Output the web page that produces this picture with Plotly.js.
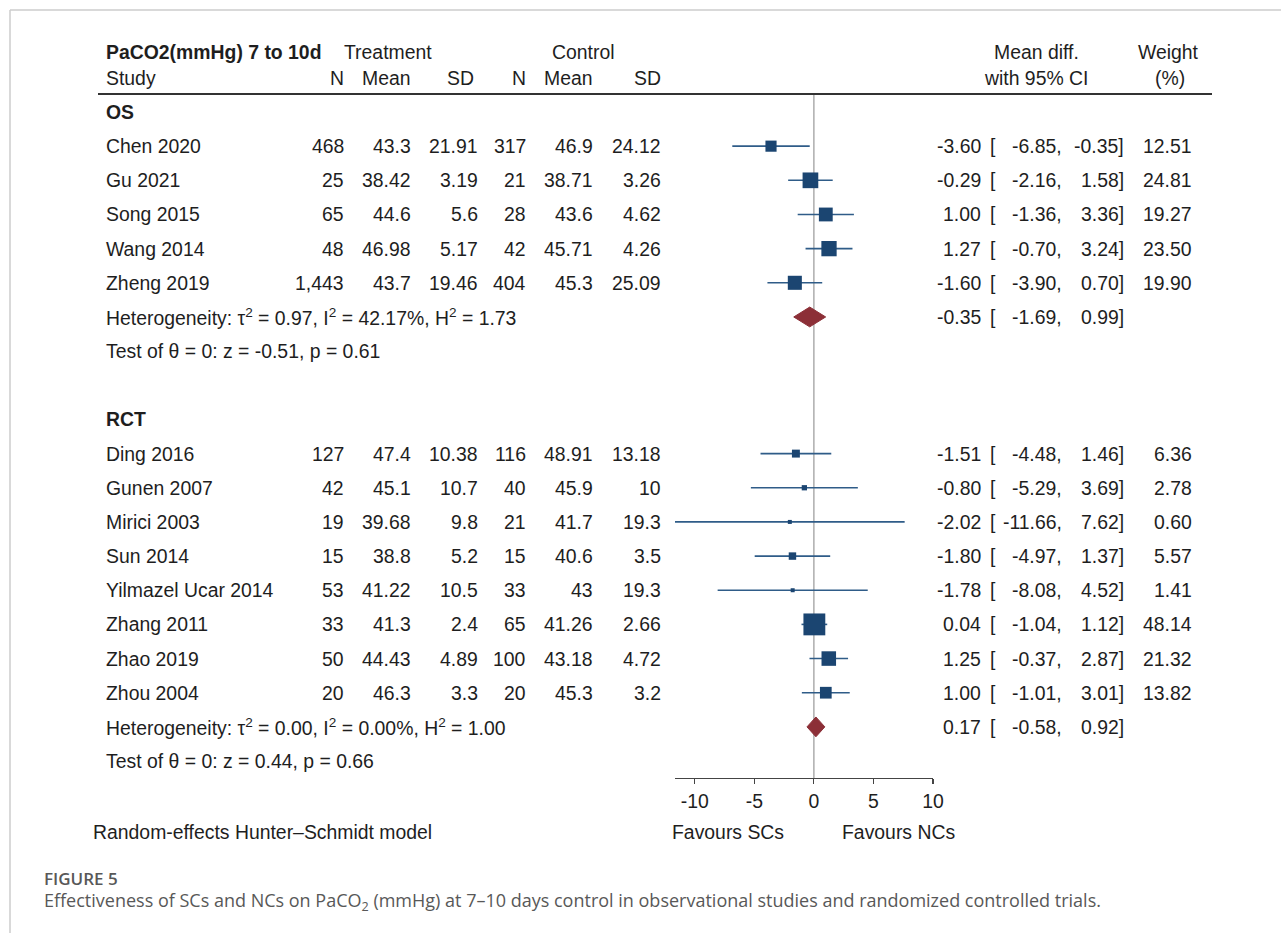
<!DOCTYPE html>
<html>
<head>
<meta charset="utf-8">
<script src="https://cdn.plot.ly/plotly-3.0.1.min.js"></script>
<style>
  html, body { margin: 0; padding: 0; background: #fff; }
  #chart { width: 1281px; height: 933px; }
</style>
</head>
<body>
<div id="chart"></div>
<script>
// ---------------- data ----------------
const groups = ["OS", "RCT"];
const studies = ["Chen 2020", "Gu 2021", "Song 2015", "Wang 2014", "Zheng 2019",
  "Ding 2016", "Gunen 2007", "Mirici 2003", "Sun 2014", "Yilmazel Ucar 2014",
  "Zhang 2011", "Zhao 2019", "Zhou 2004"];
const design = ["OS", "OS", "OS", "OS", "OS",
  "RCT", "RCT", "RCT", "RCT", "RCT", "RCT", "RCT", "RCT"];
const treatN = [468, 25, 65, 48, 1443, 127, 42, 19, 15, 53, 33, 50, 20];
const treatMean = [43.3, 38.42, 44.6, 46.98, 43.7, 47.4, 45.1, 39.68, 38.8, 41.22, 41.3, 44.43, 46.3];
const treatSD = [21.91, 3.19, 5.6, 5.17, 19.46, 10.38, 10.7, 9.8, 5.2, 10.5, 2.4, 4.89, 3.3];
const ctrlN = [317, 21, 28, 42, 404, 116, 40, 21, 15, 33, 65, 100, 20];
const ctrlMean = [46.9, 38.71, 43.6, 45.71, 45.3, 48.91, 45.9, 41.7, 40.6, 43, 41.26, 43.18, 45.3];
const ctrlSD = [24.12, 3.26, 4.62, 4.26, 25.09, 13.18, 10, 19.3, 3.5, 19.3, 2.66, 4.72, 3.2];
const meanDiff = [-3.60, -0.29, 1.00, 1.27, -1.60, -1.51, -0.80, -2.02, -1.80, -1.78, 0.04, 1.25, 1.00];
const ciLow = [-6.85, -2.16, -1.36, -0.70, -3.90, -4.48, -5.29, -11.66, -4.97, -8.08, -1.04, -0.37, -1.01];
const ciHigh = [-0.35, 1.58, 3.36, 3.24, 0.70, 1.46, 3.69, 7.62, 1.37, 4.52, 1.12, 2.87, 3.01];
const weight = [12.51, 24.81, 19.27, 23.50, 19.90, 6.36, 2.78, 0.60, 5.57, 1.41, 48.14, 21.32, 13.82];

const poolMd = [-0.35, 0.17];
const poolLow = [-1.69, -0.58];
const poolHigh = [0.99, 0.92];
const tau2 = ["0.97", "0.00"];
const i2 = ["42.17", "0.00"];
const h2 = ["1.73", "1.00"];
const zStat = ["-0.51", "0.44"];
const pVal = ["0.61", "0.66"];

const xTicks = [-10, -5, 0, 5, 10];
const xMin = -11.66, xMax = 10;

// ---------------- layout helpers ----------------
const W = 1281, H = 933;
const px = v => v / W;                 // horizontal pixel -> paper
const py = v => 1 - v / H;             // vertical pixel -> paper
const FONT = "Liberation Sans, Arial, Helvetica, sans-serif";
const FS = 19.4;
const TXT = "#1e1e1e";

// row assignment
const studyRow = [], headRow = [], poolRow = [], testRow = [];
let r = 0;
groups.forEach((g, gi) => {
  headRow.push(r); r++;
  design.forEach((d, i) => { if (d === g) { studyRow[i] = r; r++; } });
  poolRow.push(r); r++;
  testRow.push(r); r++;
  r++; // blank
});

const ann = [];
function txt(x, y, text, anchor, opts = {}) {
  ann.push(Object.assign({
    xref: "paper", yref: "y", x: px(x), y: y, text: text,
    xanchor: anchor, yanchor: "middle", showarrow: false,
    font: { family: FONT, size: FS, color: TXT }
  }, opts));
}
function ptxt(x, y, text, anchor, font) {
  ann.push({ xref: "paper", yref: "paper", x: px(x), y: py(y), text: text,
    xanchor: anchor, yanchor: "middle", showarrow: false,
    font: font || { family: FONT, size: FS, color: TXT } });
}
const fmtN = n => n.toLocaleString("en-US");

// column x positions (pixels)
const C = { name: 104, tN: 346, tM: 413, tS: 480, cN: 528, cM: 595, cS: 663,
  est: 983, br: 988, lo: 1064, hi: 1126, wt: 1194 };

// header rows
const rowTitle = -1.76, rowSub = -1.0;
txt(C.name, rowTitle, "<b>PaCO2(mmHg) 7 to 10d</b>", "left");
txt(388, rowTitle, "Treatment", "center");
txt(583, rowTitle, "Control", "center");
txt(1036, rowTitle, "Mean diff.", "center");
txt(1168, rowTitle, "Weight", "center");
txt(C.name, rowSub, "Study", "left");
txt(C.tN, rowSub, "N", "right");
txt(C.tM, rowSub, "Mean", "right");
txt(476, rowSub, "SD", "right");
txt(C.cN, rowSub, "N", "right");
txt(C.cM, rowSub, "Mean", "right");
txt(C.cS, rowSub, "SD", "right");
txt(1036, rowSub, "with 95% CI", "center");
txt(1170, rowSub, "(%)", "center");

groups.forEach((g, gi) => {
  txt(C.name, headRow[gi], "<b>" + g + "</b>", "left");
  txt(C.name, poolRow[gi], "Heterogeneity: τ<sup>2</sup> = " + tau2[gi] + ", I<sup>2</sup> = " + i2[gi] +
      "%, H<sup>2</sup> = " + h2[gi], "left");
  txt(C.name, testRow[gi], "Test of θ = 0: z = " + zStat[gi] + ", p = " + pVal[gi], "left");
  txt(C.est, poolRow[gi], poolMd[gi].toFixed(2), "right");
  txt(C.br, poolRow[gi], "[", "left");
  txt(C.lo, poolRow[gi], poolLow[gi].toFixed(2) + ",", "right");
  txt(C.hi, poolRow[gi], poolHigh[gi].toFixed(2) + "]", "right");
});

studies.forEach((s, i) => {
  const y = studyRow[i];
  txt(C.name, y, s, "left");
  txt(C.tN, y, fmtN(treatN[i]), "right");
  txt(C.tM, y, String(treatMean[i]), "right");
  txt(C.tS, y, String(treatSD[i]), "right");
  txt(C.cN, y, fmtN(ctrlN[i]), "right");
  txt(C.cM, y, String(ctrlMean[i]), "right");
  txt(C.cS, y, String(ctrlSD[i]), "right");
  txt(C.est, y, meanDiff[i].toFixed(2), "right");
  txt(C.br, y, "[", "left");
  txt(C.lo, y, ciLow[i].toFixed(2) + ",", "right");
  txt(C.hi, y, ciHigh[i].toFixed(2) + "]", "right");
  txt(C.wt, y, weight[i].toFixed(2), "right");
});

// footer texts
ptxt(91, 832, "Random-effects Hunter–Schmidt model", "left");
ptxt(728, 832, "Favours SCs", "center");
ptxt(898, 832, "Favours NCs", "center");

const CAP = "Open Sans, Noto Sans, sans-serif";
ptxt(42, 878, "FIGURE 5", "left", { family: CAP, size: 17, color: "#585858", weight: 600 });
ptxt(42, 901,
  "Effectiveness of SCs and NCs on PaCO<sub>2</sub> (mmHg) at 7–10 days control in observational studies and randomized controlled trials.",
  "left", { family: CAP, size: 18, color: "#585858" });

// ---------------- traces ----------------
const sizeK = 3.15;
const traces = [];
traces.push({
  type: "scatter", mode: "markers",
  x: meanDiff, y: studyRow,
  marker: { symbol: "square", opacity: 1,
    size: weight.map(w => Math.max(4, sizeK * Math.sqrt(w))), color: "#1b4571",
    line: { width: 0 } },
  error_x: { type: "data", symmetric: false,
    array: ciHigh.map((h, i) => h - meanDiff[i]),
    arrayminus: ciLow.map((l, i) => meanDiff[i] - l),
    width: 0, thickness: 1.6, color: "#2f5c88" },
  hoverinfo: "skip", showlegend: false, cliponaxis: false
});
const dh = 0.29;
groups.forEach((g, gi) => {
  const y = poolRow[gi];
  traces.push({
    type: "scatter", mode: "lines", fill: "toself",
    x: [poolLow[gi], poolMd[gi], poolHigh[gi], poolMd[gi], poolLow[gi]],
    y: [y, y - dh, y, y + dh, y],
    fillcolor: "#8c2f37", line: { color: "#8c2f37", width: 1 },
    hoverinfo: "skip", showlegend: false
  });
});

// ---------------- shapes ----------------
const y0px = 112, pitch = 34.16, axisPx = 778;
const rowAtPx = p => (p - y0px) / pitch;
const headerLineRow = rowAtPx(94);
const shapes = [
  // frame (top & left)
  { type: "line", xref: "paper", yref: "paper", x0: px(10), x1: 1, y0: py(10), y1: py(10),
    line: { color: "#cccccc", width: 1.5 } },
  { type: "line", xref: "paper", yref: "paper", x0: px(10), x1: px(10), y0: 0, y1: py(10),
    line: { color: "#cccccc", width: 1.5 } },
  // header rule
  { type: "line", xref: "paper", yref: "y", x0: px(98), x1: px(1212), y0: headerLineRow, y1: headerLineRow,
    line: { color: "#333333", width: 2 } },
  // null line
  { type: "line", xref: "x", yref: "y", x0: 0, x1: 0, y0: headerLineRow, y1: rowAtPx(axisPx),
    line: { color: "#a0a0a0", width: 1.3 }, layer: "below" }
];

const layout = {
  width: W, height: H,
  margin: { l: 0, r: 0, t: 0, b: 0 },
  paper_bgcolor: "#ffffff", plot_bgcolor: "rgba(0,0,0,0)",
  showlegend: false,
  xaxis: {
    domain: [px(675), px(933)], range: [xMin, xMax], anchor: "y",
    tickvals: xTicks, ticktext: xTicks.map(String),
    ticks: "outside", ticklen: 5, tickcolor: "#444", tickwidth: 1.2,
    showline: true, linecolor: "#444", linewidth: 1.2,
    showgrid: false, zeroline: false, fixedrange: true,
    tickfont: { family: FONT, size: FS, color: TXT }, ticklabelstandoff: 1
  },
  yaxis: {
    domain: [py(axisPx), 1],
    range: [rowAtPx(axisPx), rowAtPx(0)],
    visible: false, fixedrange: true
  },
  shapes: shapes,
  annotations: ann,
  font: { family: FONT, size: FS, color: TXT }
};

Plotly.newPlot("chart", traces, layout, { displayModeBar: false, staticPlot: true });
</script>
</body>
</html>
